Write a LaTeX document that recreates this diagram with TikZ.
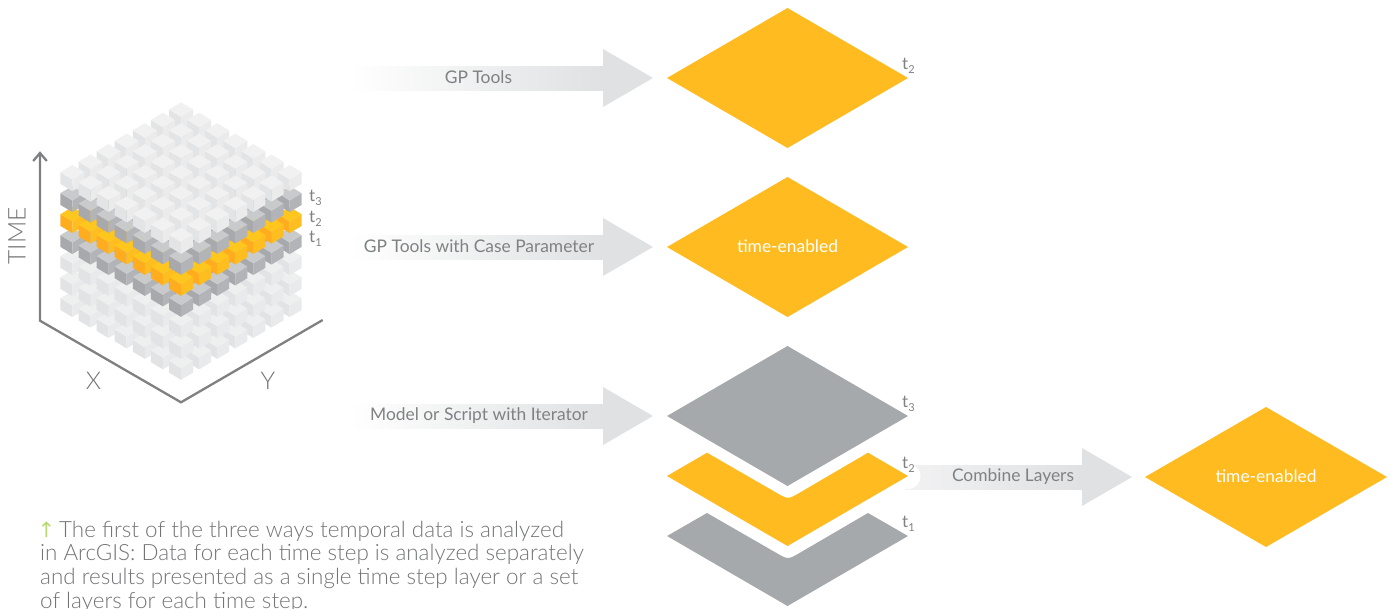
\documentclass[tikz,border=0pt]{standalone}
\usepackage{fontspec}
\setmainfont{Lato}
\newfontfamily\lightfont{Lato}[UprightFont=* Light]
\newfontfamily\symfont{DejaVu Sans}
\definecolor{amber}{HTML}{FFBB1F}
\definecolor{slab}{HTML}{A6A9AB}
\definecolor{arrowgrey}{HTML}{DFE1E2}
\definecolor{arrowpale}{HTML}{F2F2F3}
\definecolor{ink}{HTML}{7F8183}
\definecolor{captionink}{HTML}{727476}
\definecolor{axisgrey}{HTML}{7F8082}
\definecolor{leaf}{HTML}{B8DA70}
\tikzset{
  x=1pt,y=-1pt,
  shaft/.style={left color=#1,right color=arrowgrey,draw=none},
  arrowlabel/.style={text=ink,font=\fontsize{17.4}{20}\selectfont,inner sep=0pt},
  whitelabel/.style={text=white,font=\fontsize{17.4}{20}\selectfont,inner sep=0pt},
  tlabel/.style={text=ink,font=\fontsize{17}{20}\selectfont,inner sep=0pt,anchor=base west},
  axislabel/.style={text=captionink,font=\lightfont\fontsize{24.5}{28}\selectfont,inner sep=0pt},
  axisline/.style={draw=axisgrey,line width=2.3pt,line join=miter},
}
\newcommand{\tsub}[1]{t\raisebox{-4pt}{\fontsize{11}{12}\selectfont #1}}
% x, y, side height, top colour, left colour, right colour
\newcommand{\cubeat}[6]{%
  \fill[#5] (#1-12,#2+7.2) -- ++(12,7.2) -- ++(0,#3) -- ++(-12,-7.2) -- cycle;
  \fill[#6] (#1+12,#2+7.2) -- ++(-12,7.2) -- ++(0,#3) -- ++(12,-7.2) -- cycle;
  \fill[#4] (#1,#2) -- ++(12,7.2) -- ++(-12,7.2) -- ++(-12,-7.2) -- cycle;
}
\newcommand{\blockarrow}[4]{% start x, head base x, tip x, centre y
  \path[shaft=white] (#1,#4-12) rectangle (#2,#4+12);
  \fill[arrowgrey] (#2,#4-29) -- (#3,#4) -- (#2,#4+29) -- cycle;
}
\begin{document}
\begin{tikzpicture}
\useasboundingbox (0,0) rectangle (1391,608);
\clip (0,0) rectangle (1391,608);

% cube stack
\foreach \l/\ct/\cl/\cr in {
  6/EEEFEF/E2E3E5/E9EAEB,
  5/EEEFEF/E2E3E5/E9EAEB,
  4/EEEFEF/E2E3E5/E9EAEB,
  3/C8CACC/A7A9AC/B2B4B7,
  2/FFC61E/FFAD1F/FFBE1F,
  1/C8CACC/A7A9AC/B2B4B7,
  0/F1F1F2/E3E4E5/EBEBEC}{
  \definecolor{ctop}{HTML}{\ct}
  \definecolor{cleft}{HTML}{\cl}
  \definecolor{cright}{HTML}{\cr}
  \foreach \i in {0,...,6}{
    \foreach \j in {0,...,6}{
      \pgfmathsetmacro{\cx}{181+(\j-\i)*18.1}
      \pgfmathsetmacro{\cy}{102.3+(\i+\j)*10.45+\l*21}
      \pgfmathsetmacro{\sh}{ifthenelse(and(\i<6,\j<6),16,11.7)}
      \cubeat{\cx}{\cy}{\sh}{ctop}{cleft}{cright}
    }
  }
}

% axes
\coordinate (origin) at (181,402.3);
\coordinate (xend) at (40,320.7);
\coordinate (yend) at (322.7,320);
\coordinate (ttip) at (40,153);
\draw[axisline] (ttip) -- (xend) -- (origin) -- (yend);
\draw[axisline] (33.2,161) -- (ttip) -- (46.8,161);
\node[axislabel] (xlabel) at (93.5,381) {X};
\node[axislabel] (ylabel) at (268,381) {Y};
\node[axislabel,rotate=90] (timelabel) at (17,236) {TIME};
\node[tlabel] (cube3) at (309,201) {\tsub{3}};
\node[tlabel] (cube2) at (309,222) {\tsub{2}};
\node[tlabel] (cube1) at (309,242) {\tsub{1}};

% arrows
\blockarrow{350}{603}{653}{78}
\blockarrow{350}{603}{653}{247}
\blockarrow{350}{603}{653}{416}
\path[shaft=arrowpale] (905,465) rectangle (1082,489);
\fill[arrowgrey] (1082,448) -- (1132,477) -- (1082,506) -- cycle;
\node[arrowlabel] (a1) at (478.5,77.5) {GP Tools};
\node[arrowlabel] (a2) at (479,246.5) {GP Tools with Case Parameter};
\node[arrowlabel] (a3) at (479,415.5) {Model or Script with Iterator};
\node[arrowlabel] (a4) at (1013,476.5) {Combine Layers};

% right-hand layers
\fill[amber] (667,78) -- (787.5,8) -- (908,78) -- (787.5,148) -- cycle;
\fill[amber] (667,247) -- (787.5,177) -- (908,247) -- (787.5,317) -- cycle;
\fill[slab] (667,416) -- (787.5,346) -- (908,416) -- (787.5,486) -- cycle;
\fill[white] (908,476.5) circle (12.5);
\fill[amber] (667,476) -- (707,452.7) -- (776,492.5) .. controls (788,499.5) .. (800,492.5) -- (868,452.7) -- (908,476) -- (787.5,546) -- cycle;
\fill[slab] (667,536) -- (707,513) -- (776,552.7) .. controls (788,559.7) .. (800,552.7) -- (868,513) -- (908,536) -- (787.5,606) -- cycle;
\fill[amber] (1145,477) -- (1266,407) -- (1387,477) -- (1266,547) -- cycle;
\node[whitelabel] (w1) at (787.5,246.5) {time-enabled};
\node[whitelabel] (w2) at (1266,476.5) {time-enabled};
\node[tlabel] (t2a) at (902,69) {\tsub{2}};
\node[tlabel] (t3) at (902,407) {\tsub{3}};
\node[tlabel] (t2b) at (902,468) {\tsub{2}};
\node[tlabel] (t1) at (902,527) {\tsub{1}};

% caption
\node[anchor=north west,inner sep=0pt,align=left,text=captionink,font=\lightfont\fontsize{22.4}{23.7}\selectfont] (caption) at (40,520.5)
 {\makebox[19pt][l]{\hspace{-2.5pt}\symfont\fontsize{21}{18}\selectfont\textcolor{leaf}{↑}}The first of the three ways temporal data is analyzed\\
  in ArcGIS: Data for each time step is analyzed separately\\
  and results presented as a single time step layer or a set\\
  of layers for each time step.};
\end{tikzpicture}
\end{document}
